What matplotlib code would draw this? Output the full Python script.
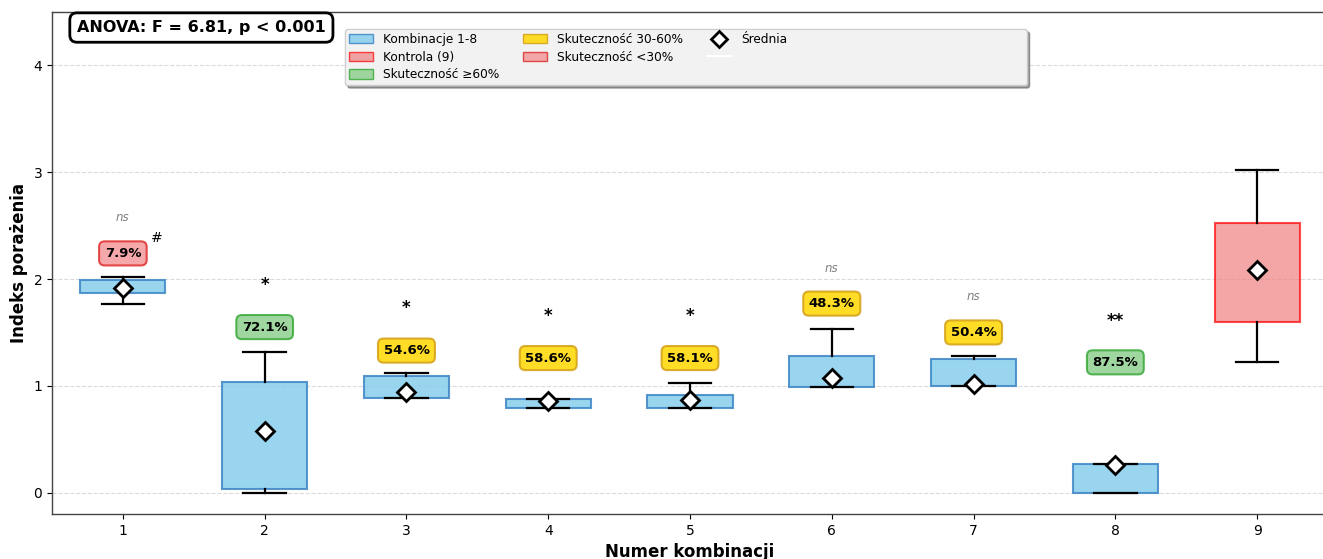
import matplotlib
matplotlib.use("Agg")
import matplotlib.pyplot as plt
from matplotlib.patches import Patch
from matplotlib.lines import Line2D

# ---- data ----
groups = [1, 2, 3, 4, 5, 6, 7, 8, 9]
q1 = [1.87, 0.03, 0.89, 0.79, 0.79, 0.99, 1.00, 0.00, 1.60]
q3 = [1.99, 1.04, 1.09, 0.88, 0.91, 1.28, 1.25, 0.27, 2.52]
whislo = [1.77, 0.00, 0.89, 0.79, 0.79, 0.99, 1.00, 0.00, 1.22]
whishi = [2.02, 1.32, 1.12, 0.88, 1.03, 1.53, 1.28, 0.27, 3.02]
medians = [1.92, 0.50, 0.95, 0.83, 0.84, 1.05, 1.05, 0.20, 2.05]
means = [1.92, 0.58, 0.94, 0.86, 0.87, 1.07, 1.02, 0.26, 2.08]

eff_labels = ["7.9%", "72.1%", "54.6%", "58.6%", "58.1%", "48.3%", "50.4%", "87.5%"]
eff_values = [7.9, 72.1, 54.6, 58.6, 58.1, 48.3, 50.4, 87.5]
eff_y = [2.24, 1.55, 1.33, 1.26, 1.26, 1.77, 1.50, 1.22]
sig_marks = ["ns", "*", "*", "*", "*", "ns", "ns", "**"]
sig_y = [2.58, 1.94, 1.73, 1.65, 1.65, 2.10, 1.84, 1.61]

anova_text = "ANOVA: F = 6.81, p < 0.001"

fig = plt.figure(figsize=(13.23, 5.59), dpi=100)
ax = fig.add_axes([0.0393, 0.0805, 0.9645, 0.898])

stats = []
for i in range(len(groups)):
    stats.append(dict(label=str(groups[i]), q1=q1[i], q3=q3[i], med=medians[i],
                      whislo=whislo[i], whishi=whishi[i], mean=means[i], fliers=[]))

bp = ax.bxp(stats, positions=groups, widths=0.6, patch_artist=True,
            showmeans=True, meanline=False, capwidths=0.3,
            medianprops=dict(linewidth=0),
            whiskerprops=dict(color='black', linewidth=1.6),
            capprops=dict(color='black', linewidth=1.6),
            meanprops=dict(marker='D', markerfacecolor='white', markeredgecolor='black',
                           markersize=9, markeredgewidth=2))
for i, box in enumerate(bp['boxes']):
    if i == 8:
        box.set_facecolor('#f08080')
        box.set_alpha(0.7)
        box.set_edgecolor('red')
    else:
        box.set_facecolor('#87CEEB')
        box.set_alpha(0.85)
        box.set_edgecolor('#3d85c6')
    box.set_linewidth(1.5)
for m in bp['means']:
    m.set_zorder(5)

def eff_style(v):
    if v >= 60:
        return '#8fd08f', '#3aa93a'
    elif v >= 30:
        return '#ffd700', '#d4a017'
    else:
        return '#f4999a', '#e03030'

for i in range(8):
    fc, ec = eff_style(eff_values[i])
    ax.text(groups[i], eff_y[i], eff_labels[i], ha='center', va='center',
            fontsize=9.5, fontweight='bold', color='black',
            bbox=dict(boxstyle='round,pad=0.42', facecolor=fc, edgecolor=ec,
                      linewidth=1.5, alpha=0.85))
    if sig_marks[i] == 'ns':
        ax.text(groups[i], sig_y[i], 'ns', ha='center', va='center', fontsize=8.5,
                style='italic', color='gray')
    else:
        ax.text(groups[i], sig_y[i], sig_marks[i], ha='center', va='center',
                fontsize=12, fontweight='bold', color='black')

ax.text(1.24, 2.38, '#', ha='center', va='center', fontsize=10, color='black')

ax.text(0.0196, 0.984, anova_text, transform=ax.transAxes, ha='left', va='top',
        fontsize=11.5, fontweight='bold',
        bbox=dict(boxstyle='round,pad=0.45', facecolor='white', edgecolor='black',
                  linewidth=2))

ax.set_xlim(0.5, 9.5)
ax.set_ylim(-0.2, 4.5)
ax.set_yticks([0, 1, 2, 3, 4])
ax.set_xticks(groups)
ax.set_xticklabels([str(g) for g in groups])
ax.tick_params(labelsize=10)
ax.yaxis.grid(True, linestyle='--', color='#cccccc', alpha=0.7)
ax.set_axisbelow(True)
ax.set_xlabel('Numer kombinacji', fontsize=12, fontweight='bold')
ax.set_ylabel('Indeks porażenia', fontsize=12, fontweight='bold')
for s in ax.spines.values():
    s.set_linewidth(1.0)
    s.set_color('#444444')

handles = [
    Patch(facecolor='#87CEEB', edgecolor='#3d85c6', alpha=0.85, label='Kombinacje 1-8'),
    Patch(facecolor='#f08080', edgecolor='red', alpha=0.7, label='Kontrola (9)'),
    Patch(facecolor='#8fd08f', edgecolor='#3aa93a', alpha=0.85, label='Skuteczność ≥60%'),
    Patch(facecolor='#ffd700', edgecolor='#d4a017', alpha=0.85, label='Skuteczność 30-60%'),
    Patch(facecolor='#f4999a', edgecolor='#e03030', alpha=0.85, label='Skuteczność <30%'),
    Line2D([], [], marker='D', color='none', markerfacecolor='white',
           markeredgecolor='black', markersize=8, markeredgewidth=2, label='Średnia'),
    Line2D([], [], color='white', linewidth=1.5,
           label='Mediana (linia w pudełku) - wartość środkowa.'),
]
leg = ax.legend(handles=handles, loc='upper left', bbox_to_anchor=(0.2296, 0.966),
                ncol=3, fontsize=8.7, frameon=True, shadow=True, fancybox=True,
                framealpha=0.95, borderpad=0.33, columnspacing=2.0, handlelength=2.0,
                handleheight=0.8, labelspacing=0.38, borderaxespad=0.0)
leg.get_frame().set_facecolor('#f7f7f7')
leg.get_frame().set_edgecolor('#cccccc')
leg.get_texts()[-1].set_alpha(0.0)

fig.savefig('out.png', dpi=100)
